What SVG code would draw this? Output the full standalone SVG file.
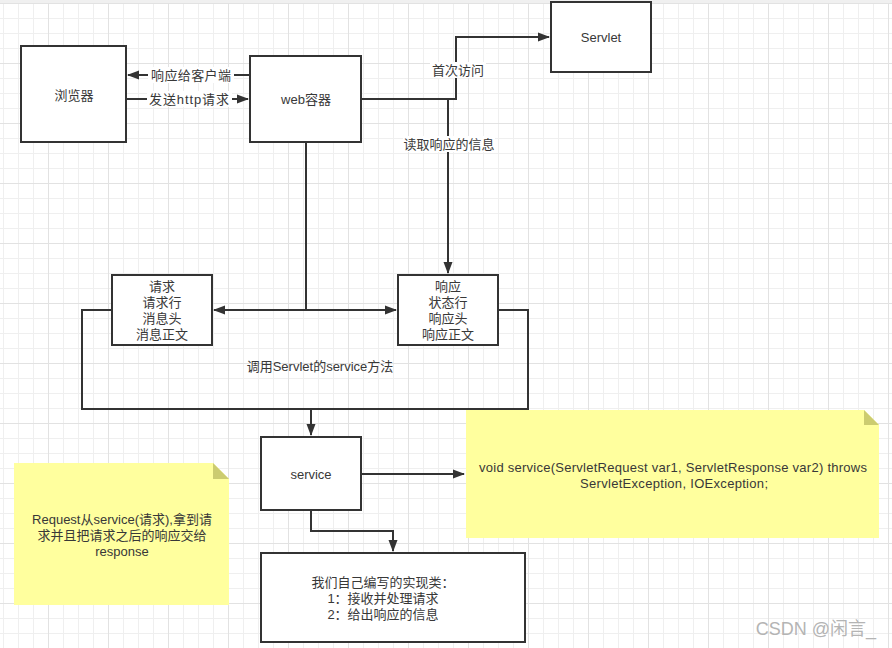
<svg xmlns="http://www.w3.org/2000/svg" width="892" height="648" viewBox="0 0 892 648">
<defs>
<pattern id="grid" patternUnits="userSpaceOnUse" x="48" y="3" width="60" height="60">
<path d="M15.5 0V60M30.5 0V60M45.5 0V60M0 15.5H60M0 30.5H60M0 45.5H60" stroke="#efefef" stroke-width="1" fill="none"/>
<path d="M0.5 0V60M0 0.5H60" stroke="#e2e2e2" stroke-width="1" fill="none"/>
</pattern>
<marker id="arrL" viewBox="0 0 12 10" refX="11" refY="5" markerWidth="12" markerHeight="10" markerUnits="userSpaceOnUse" orient="auto">
<path d="M0 0.5L12 5L0 9.5Z" fill="#333"/>
</marker>
</defs>
<style>
.box{fill:#fff;stroke:#333;stroke-width:2}
.t{font-family:"Liberation Sans","Noto Sans CJK SC",sans-serif;font-size:13px;fill:#383838;text-anchor:middle}
.e{fill:none;stroke:#333;stroke-width:2}
.lbl{fill:#fff}
.note{fill:#ffff9e}
.fold{fill:#cccc70}
</style>
<rect width="892" height="648" fill="#fff"/>
<rect width="892" height="648" fill="url(#grid)"/>
<rect width="892" height="3" fill="#f0f0f0"/>

<g id="connectors">
<path class="e" d="M250 75H128" marker-end="url(#arrL)"/>
<path class="e" d="M126 99H248" marker-end="url(#arrL)"/>
<path class="e" d="M361 99H456V37H549" marker-end="url(#arrL)"/>
<path class="e" d="M361 99H448V273" marker-end="url(#arrL)"/>
<path class="e" d="M306 142V310H214" marker-end="url(#arrL)"/>
<path class="e" d="M306 310H396" marker-end="url(#arrL)"/>
<path class="e" d="M112 310H82V409H528V310H498"/>
<path class="e" d="M311 409V435" marker-end="url(#arrL)"/>
<path class="e" d="M361 474H464" marker-end="url(#arrL)"/>
<path class="e" d="M311 510V531H393V551" marker-end="url(#arrL)"/>
<rect class="lbl" x="148" y="67" width="86" height="16"/>
<text class="t" x="191" y="80" textLength="80">响应给客户端</text>
<rect class="lbl" x="147" y="91" width="85" height="16"/>
<text class="t" x="189" y="104" textLength="80">发送http请求</text>
<rect class="lbl" x="430" y="62" width="56" height="16"/>
<text class="t" x="458" y="75">首次访问</text>
<rect class="lbl" x="403" y="136" width="92" height="16"/>
<text class="t" x="449" y="149">读取响应的信息</text>
<text class="t" x="320" y="371">调用Servlet的service方法</text>
</g>

<g id="browser">
<rect class="box" x="21" y="46" width="105" height="96"/>
<text class="t" x="74" y="100">浏览器</text>
</g>
<g id="web">
<rect class="box" x="250" y="56" width="111" height="86"/>
<text class="t" x="306" y="104">web容器</text>
</g>
<g id="servlet">
<rect class="box" x="551" y="2" width="100" height="70"/>
<text class="t" x="601" y="42">Servlet</text>
</g>
<g id="request">
<rect class="box" x="112" y="275" width="100" height="70"/>
<text class="t" x="162" y="291">请求</text>
<text class="t" x="162" y="307">请求行</text>
<text class="t" x="162" y="323">消息头</text>
<text class="t" x="162" y="339">消息正文</text>
</g>
<g id="response">
<rect class="box" x="398" y="275" width="100" height="70"/>
<text class="t" x="448" y="291">响应</text>
<text class="t" x="448" y="307">状态行</text>
<text class="t" x="448" y="323">响应头</text>
<text class="t" x="448" y="339">响应正文</text>
</g>
<g id="service">
<rect class="box" x="261" y="437" width="100" height="73"/>
<text class="t" x="311" y="479">service</text>
</g>
<g id="impl">
<rect class="box" x="261" y="553" width="264" height="89"/>
<text class="t" x="383" y="587">我们自己编写的实现类：</text>
<text class="t" x="383" y="603">1：接收并处理请求</text>
<text class="t" x="383" y="619">2：给出响应的信息</text>
</g>
<g id="note-signature">
<path class="note" d="M466 410H864L879 425V538H466Z"/>
<path class="fold" d="M864 410V425H879Z"/>
<text class="t" x="673" y="472" textLength="388">void service(ServletRequest var1, ServletResponse var2) throws</text>
<text class="t" x="674" y="488" textLength="188">ServletException, IOException;</text>
</g>
<g id="note-request">
<path class="note" d="M14 463H213L229 479V605H14Z"/>
<path class="fold" d="M213 463V479H229Z"/>
<text class="t" x="122" y="524">Request从service(请求),拿到请</text>
<text class="t" x="122" y="540">求并且把请求之后的响应交给</text>
<text class="t" x="122" y="556">response</text>
</g>
<text x="816" y="635" style="font-family:'Liberation Sans','Noto Sans CJK SC',sans-serif;font-size:18px;fill:#b4b4b4;text-anchor:middle">CSDN @闲言_</text>
</svg>
